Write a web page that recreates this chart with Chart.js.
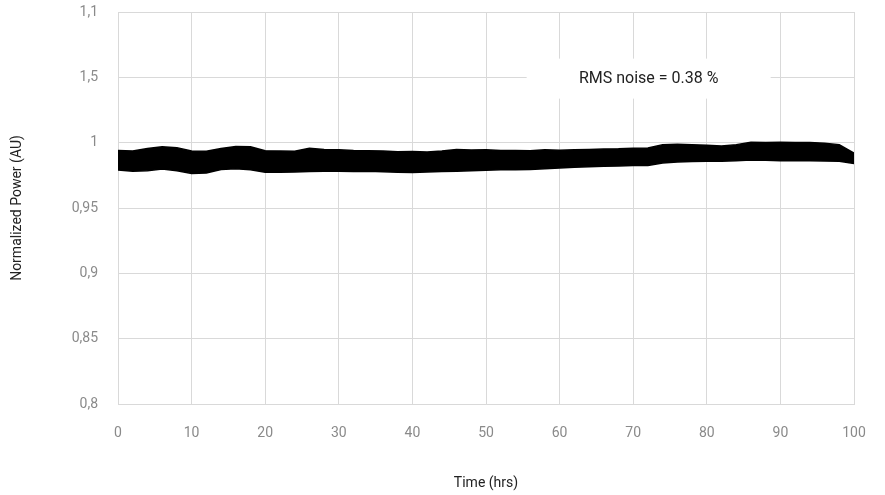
<!DOCTYPE html>
<html>
<head>
<meta charset="utf-8">
<script src="https://cdn.jsdelivr.net/npm/chart.js@4/dist/chart.umd.min.js"></script>
<style>
  body { margin: 0; background: #fff; }
</style>
</head>
<body>
<canvas id="powerChart" width="885" height="495"></canvas>
<script>
// time in hours, every 2 h
const hours = [0, 2, 4, 6, 8, 10, 12, 14, 16, 18, 20, 22, 24, 26, 28, 30, 32, 34, 36, 38, 40,
  42, 44, 46, 48, 50, 52, 54, 56, 58, 60, 62, 64, 66, 68, 70, 72, 74, 76, 78, 80,
  82, 84, 86, 88, 90, 92, 94, 96, 98, 100];

// upper / lower edge of the noisy trace
const powerUpper = [0.9940, 0.9937, 0.9955, 0.9968, 0.9962, 0.9937, 0.9934, 0.9955, 0.9970, 0.9968, 0.9939,
  0.9936, 0.9934, 0.9958, 0.9948, 0.9946, 0.9940, 0.9939, 0.9937, 0.9930, 0.9932,
  0.9929, 0.9936, 0.9948, 0.9944, 0.9946, 0.9940, 0.9941, 0.9939, 0.9945, 0.9942,
  0.9946, 0.9948, 0.9952, 0.9953, 0.9957, 0.9959, 0.9985, 0.9987, 0.9985, 0.9980,
  0.9974, 0.9985, 1.0003, 1.0002, 1.0004, 1.0002, 1.0001, 0.9996, 0.9985, 0.9921];
const powerLower = [0.9790, 0.9781, 0.9786, 0.9798, 0.9785, 0.9765, 0.9768, 0.9795, 0.9801, 0.9793, 0.9774,
  0.9773, 0.9775, 0.9780, 0.9781, 0.9781, 0.9779, 0.9781, 0.9778, 0.9774, 0.9772,
  0.9776, 0.9780, 0.9781, 0.9786, 0.9789, 0.9793, 0.9793, 0.9795, 0.9801, 0.9806,
  0.9811, 0.9815, 0.9819, 0.9822, 0.9826, 0.9826, 0.9845, 0.9852, 0.9856, 0.9858,
  0.9858, 0.9862, 0.9868, 0.9866, 0.9862, 0.9862, 0.9861, 0.9860, 0.9857, 0.9840];

// y tick labels as printed (bottom to top)
const yTickLabels = ['0,8', '0,85', '0,9', '0,95', '1', '1,5', '1,1'];
const noiseLabel = 'RMS noise = 0.38 %';

const gridColor = '#d9d9d9';
const tickColor = '#8a8a8a';

// white box with the noise text, placed in data coords
const noiseBox = {
  id: 'noiseBox',
  afterDatasetsDraw(chart) {
    const {ctx, scales} = chart;
    const cx = scales.x.getPixelForValue(72.1);
    const cy = scales.y.getPixelForValue(1.049);
    ctx.save();
    ctx.fillStyle = '#fff';
    ctx.fillRect(cx - 122, cy - 20, 244, 40);
    ctx.fillStyle = '#222';
    ctx.font = '16px Roboto';
    ctx.textAlign = 'center';
    ctx.textBaseline = 'middle';
    ctx.fillText(noiseLabel, cx, cy);
    ctx.restore();
  },
};

new Chart(document.getElementById('powerChart'), {
  type: 'line',
  data: {
    labels: hours,
    datasets: [
      {
        data: hours.map((h, i) => ({x: h, y: powerUpper[i]})),
        borderColor: '#000',
        backgroundColor: '#000',
        borderWidth: 1.5,
        pointRadius: 0,
        tension: 0,
        fill: '+1',
      },
      {
        data: hours.map((h, i) => ({x: h, y: powerLower[i]})),
        borderColor: '#000',
        borderWidth: 1.5,
        pointRadius: 0,
        tension: 0,
        fill: false,
      },
    ],
  },
  options: {
    responsive: false,
    animation: false,
    layout: {padding: {left: 0, right: 31, top: 12, bottom: 1}},
    plugins: {legend: {display: false}, tooltip: {enabled: false}},
    scales: {
      x: {
        type: 'linear',
        min: 0,
        max: 100,
        ticks: {stepSize: 10, color: tickColor, font: {family: 'Roboto', size: 14}, padding: 21},
        grid: {color: gridColor, drawTicks: false},
        border: {color: gridColor},
        title: {display: true, text: 'Time (hrs)', color: '#222', font: {family: 'Roboto', size: 14}, padding: 2},
        afterFit: (s) => { s.height = 90; s.paddingLeft = 0; s.paddingRight = 0; },
      },
      y: {
        min: 0.8,
        max: 1.1,
        ticks: {
          stepSize: 0.05,
          color: tickColor,
          font: {family: 'Roboto', size: 14},
          padding: 20,
          callback: (v, i) => yTickLabels[i],
        },
        grid: {color: gridColor, drawTicks: false},
        border: {color: gridColor},
        title: {display: true, text: 'Normalized Power (AU)', color: '#222', font: {family: 'Roboto', size: 14}, padding: 9},
        afterFit: (s) => { s.width = 118; s.paddingTop = 0; s.paddingBottom = 0; },
      },
    },
  },
  plugins: [noiseBox],
});
</script>
</body>
</html>
